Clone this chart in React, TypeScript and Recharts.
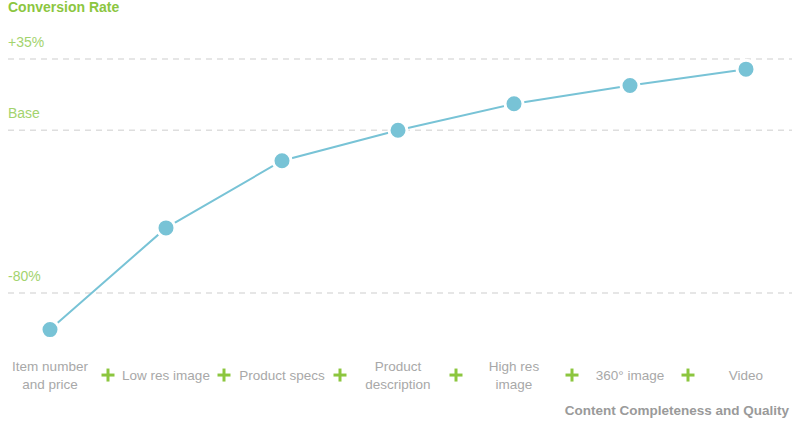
import { LineChart, Line, XAxis, YAxis, ReferenceLine } from "recharts";

const steps = [
  "Item number\nand price",
  "Low res image",
  "Product specs",
  "Product\ndescription",
  "High res\nimage",
  "360° image",
  "Video",
];
const lift = [-98, -48, -15, 0, 13, 22, 30];
const marks = [
  { value: 35, label: "+35%" },
  { value: 0, label: "Base" },
  { value: -80, label: "-80%" },
];

const data = steps.map((name, idx) => ({ idx, name, value: lift[idx] }));

const GREEN = "#8cc63f";
const LIGHT_GREEN = "#a3d36e";
const GRAY = "#a8a8a8";
const BLUE = "#78c3d6";
const FONT = "'Liberation Sans', Arial, sans-serif";

const StepTick = (props: any) => {
  const { x, y, payload } = props;
  const lines = steps[payload.value].split("\n");
  const cy = y + 13;
  return (
    <g>
      {payload.value > 0 && (
        <g stroke={GREEN} strokeWidth={3}>
          <line x1={x - 64.5} x2={x - 51.5} y1={cy} y2={cy} />
          <line x1={x - 58} x2={x - 58} y1={cy - 6.5} y2={cy + 6.5} />
        </g>
      )}
      <text
        x={x}
        y={cy}
        textAnchor="middle"
        fill={GRAY}
        fontSize={13.5}
        fontFamily={FONT}
      >
        {lines.map((l, i) => (
          <tspan
            key={i}
            x={x}
            dy={i === 0 ? (lines.length === 1 ? 5 : -4) : 18}
          >
            {l}
          </tspan>
        ))}
      </text>
    </g>
  );
};

// the first mark also carries the chart title above it
const MarkLabel = (label: string, title?: string) => (props: any) => {
  const { viewBox } = props;
  return (
    <g fontFamily={FONT} fontSize={14}>
      {title && (
        <text x={8} y={12} fill={GREEN} fontWeight="bold">
          {title}
        </text>
      )}
      <text x={8} y={viewBox.y - 12} fill={LIGHT_GREEN}>
        {label}
      </text>
    </g>
  );
};

export default function App() {
  return (
    <div
      style={{
        position: "absolute",
        left: 0,
        top: 0,
        width: 800,
        height: 430,
        background: "#fff",
        fontFamily: FONT,
      }}
    >
      <LineChart
        width={800}
        height={430}
        data={data}
        margin={{ top: 28.48, right: 8, bottom: 15.96, left: 8 }}
      >
        <XAxis
          dataKey="idx"
          type="number"
          domain={[-42 / 116, 6 + 46 / 116]}
          ticks={[0, 1, 2, 3, 4, 5, 6]}
          axisLine={false}
          tickLine={false}
          height={60}
          interval={0}
          tick={<StepTick />}
        />
        <YAxis hide domain={[-110, 50]} />
        {marks.map((m, i) => (
          <ReferenceLine
            key={m.label}
            y={m.value}
            stroke="#dedede"
            strokeWidth={1.5}
            strokeDasharray="6 5"
            label={MarkLabel(m.label, i === 0 ? "Conversion Rate" : undefined)}
          />
        ))}
        <Line
          dataKey="value"
          stroke={BLUE}
          strokeWidth={2}
          isAnimationActive={false}
          dot={{ r: 9, fill: BLUE, stroke: "#fff", strokeWidth: 3 }}
        />
      </LineChart>
      <div
        style={{
          position: "absolute",
          right: 11,
          top: 404,
          lineHeight: "14px",
          color: "#9a9a9a",
          fontWeight: "bold",
          fontSize: 13.5,
          zIndex: 2,
        }}
      >
        Content Completeness and Quality
      </div>
    </div>
  );
}
